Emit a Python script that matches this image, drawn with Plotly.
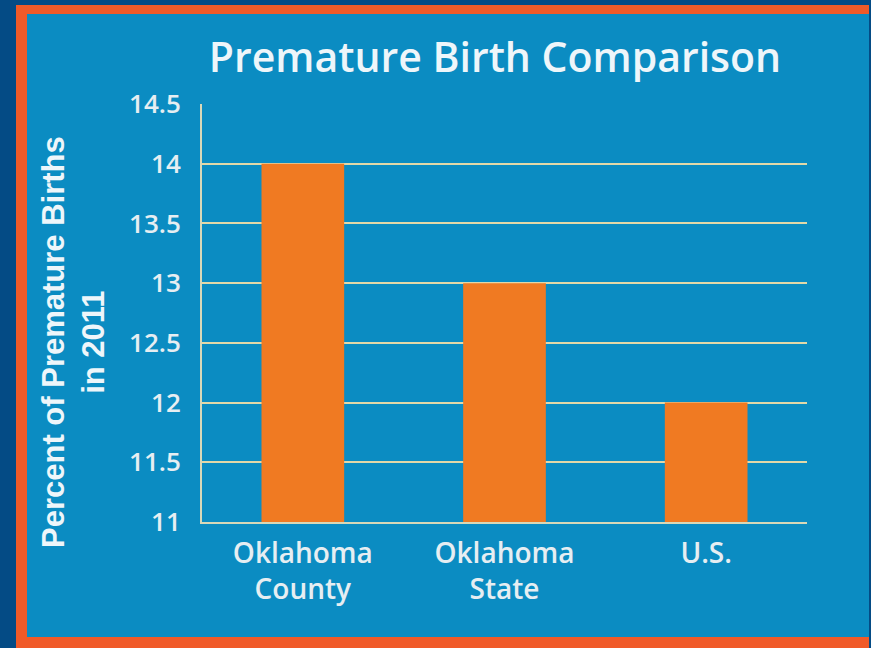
import plotly.graph_objects as go

categories = ["Oklahoma<br>County", "Oklahoma<br>State", "U.S."]
values = [14, 13, 12]
tick_vals = [11, 11.5, 12, 12.5, 13, 13.5, 14, 14.5]
tick_text = ["11", "11.5", "12", "12.5", "13", "13.5", "14", "14.5"]

W, H = 871, 648
L, R, T, B = 202, 807, 104, 522

def px(x):
    return (x - L) / (R - L)

def py(y):
    return (B - y) / (B - T)

fig = go.Figure(go.Bar(x=categories, y=values, marker=dict(color="#f07a22", line=dict(width=0)),
                       width=0.41))

shapes = [
    dict(type="rect", xref="paper", yref="paper", x0=px(16), x1=px(869), y0=py(648), y1=py(5),
         fillcolor="#f05a28", line=dict(width=0), layer="below"),
    dict(type="rect", xref="paper", yref="paper", x0=px(27), x1=px(869), y0=py(637), y1=py(14),
         fillcolor="#0b8cc2", line=dict(width=0), layer="below"),
]

annotations = [
    dict(text="<b>Percent of Premature Births<br>in 2011</b>", xref="paper", yref="paper",
         x=px(73), y=py(342), xanchor="center", yanchor="middle", textangle=-90,
         showarrow=False, font=dict(family="Liberation Sans", size=31, color="#eef6fa")),
]

fig.update_layout(
    width=W, height=H,
    margin=dict(l=L, r=W - R, t=T, b=H - B, pad=0),
    paper_bgcolor="#044b85",
    plot_bgcolor="rgba(0,0,0,0)",
    shapes=shapes,
    annotations=annotations,
    showlegend=False,
    title=dict(text="Premature Birth Comparison", x=(495) / W, xanchor="center",
               y=1 - 58 / H, yanchor="middle",
               font=dict(family="Open Sans", size=41, weight=600, color="#eef6fa")),
    font=dict(family="Open Sans", color="#e6eef2"),
    xaxis=dict(showgrid=False, showline=True, linecolor="#d8d8b8", linewidth=2,
               tickfont=dict(size=28, weight=600, color="#e6eef2"), ticks="", ticklen=0,
               ticklabelstandoff=5),
    yaxis=dict(range=[11, 14.5], tickvals=tick_vals, ticktext=tick_text,
               showgrid=True, gridcolor="#e2d8a8", gridwidth=2,
               showline=True, linecolor="#d8d8b8", linewidth=2, zeroline=False,
               tickfont=dict(size=26, weight=600, color="#e6eef2"), ticks="", ticklabelstandoff=14),
)

fig.write_html("out.html", config={"displayModeBar": False},
               post_script="document.body.style.margin='0';document.body.style.background='#044b85';")
